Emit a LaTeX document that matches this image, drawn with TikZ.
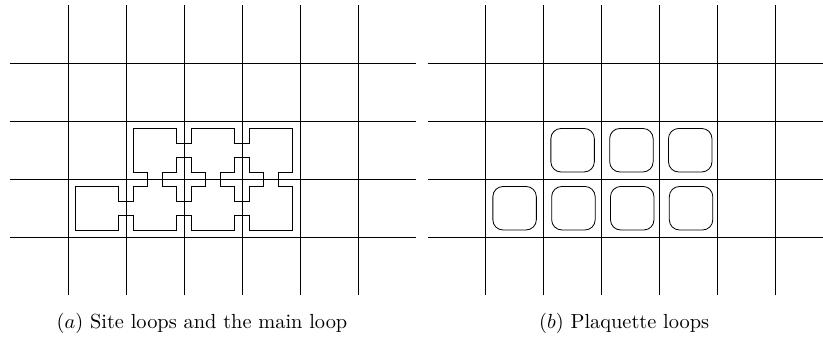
\documentclass[tikz,border=0pt]{standalone}
\usepackage{amsmath,amssymb}
\usepackage{tikz}
\usetikzlibrary{calc,positioning}

\tikzset{
	lattice/.style={line width=0.45pt},
	loopline/.style={line width=0.4pt},
	plaq/.style={draw, line width=0.4pt, rounded corners=5pt, minimum size=0.75cm, inner sep=0pt}
}

\begin{document}
\begin{tikzpicture}

		\clip (-1.172,-1.77) rectangle (13.017,4.09);

		\begin{scope}

		% lattice
		\foreach \x in {0,...,5} {\draw [lattice] (\x,-1) -- (\x,4);}
		\foreach \y in {0,...,3} {\draw [lattice] (-1,\y) -- (6,\y);}

		\coordinate (s_21) at (2,1);

		\coordinate (s_31) at (3,1);

		% site loops
		\draw [loopline] ($(s_21) + (-0.125,0.375)$) -- ++(0.25,0) -- ++(0,-0.25) -- ++(0.25,0) -- ++(0,-0.25) -- ++(-0.25,0) -- ++(0,-0.25) -- ++(-0.25,0) -- ++(0,0.25) -- ++(-0.25,0) -- ++(0,0.25) -- ++(0.25,0) -- cycle;

		\draw [loopline] ($(s_31) + (-0.125,0.375)$) -- ++(0.25,0) -- ++(0,-0.25) -- ++(0.25,0) -- ++(0,-0.25) -- ++(-0.25,0) -- ++(0,-0.25) -- ++(-0.25,0) -- ++(0,0.25) -- ++(-0.25,0) -- ++(0,0.25) -- ++(0.25,0) -- cycle;

		% main loop
		\draw [loopline] (1.125,1.875) -- (1.875,1.875) -- (1.875,1.625) -- (2.125,1.625) -- (2.125,1.875)
			-- (2.875,1.875) -- (2.875,1.625) -- (3.125,1.625) -- (3.125,1.875) -- (3.875,1.875)
			-- (3.875,1.125) -- (3.625,1.125) -- (3.625,0.875) -- (3.875,0.875) -- (3.875,0.125)
			-- (3.125,0.125) -- (3.125,0.375) -- (2.875,0.375) -- (2.875,0.125)
			-- (2.125,0.125) -- (2.125,0.375) -- (1.875,0.375) -- (1.875,0.125)
			-- (1.125,0.125) -- (1.125,0.375) -- (0.875,0.375) -- (0.875,0.125)
			-- (0.125,0.125) -- (0.125,0.875) -- (0.875,0.875) -- (0.875,0.625) -- (1.125,0.625)
			-- (1.125,0.875) -- (1.375,0.875) -- (1.375,1.125) -- (1.125,1.125) -- cycle;

		\node (cap_a) at (2.31,-1.48) {$(a)$ Site loops and the main loop};

		\end{scope}


		\begin{scope}[xshift=7.2cm]			% second panel

		% lattice
		\foreach \x in {0,...,5} {\draw [lattice] (\x,-1) -- (\x,4);}
		\foreach \y in {0,...,3} {\draw [lattice] (-1,\y) -- (6,\y);}

		% plaquette loops
		\node [plaq] (P_11) at (1.5,1.5) {};

		\node [plaq] (P_21) [right=0.25cm of P_11] {};

		\node [plaq] (P_31) [right=0.25cm of P_21] {};

		\node [plaq] (P_00) at (0.5,0.5) {};

		\node [plaq] (P_10) [right=0.25cm of P_00] {};

		\node [plaq] (P_20) [right=0.25cm of P_10] {};

		\node [plaq] (P_30) [right=0.25cm of P_20] {};

		\node (cap_b) at (2.39,-1.48) {$(b)$ Plaquette loops};

		\end{scope}

\end{tikzpicture}
\end{document}
